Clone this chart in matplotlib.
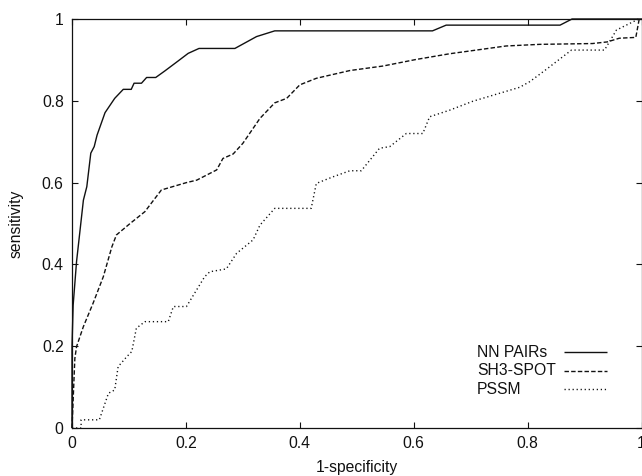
import matplotlib
matplotlib.use("Agg")
import matplotlib.pyplot as plt
from matplotlib.lines import Line2D

plt.rcParams['font.family'] = ['Liberation Sans', 'DejaVu Sans']

series_names = ["NN PAIRs", "SH3-SPOT", "PSSM"]

nn_x = [0, 0, 0.002, 0.008, 0.02, 0.026, 0.033, 0.039, 0.044, 0.058, 0.075, 0.09, 0.104, 0.109,
        0.122, 0.131, 0.147, 0.163, 0.186, 0.204, 0.223, 0.286, 0.324, 0.356, 0.633, 0.657,
        0.857, 0.878, 1.0]
nn_y = [0, 0.2, 0.30, 0.407, 0.557, 0.59, 0.672, 0.688, 0.716, 0.771, 0.806, 0.828, 0.828, 0.843,
        0.843, 0.857, 0.857, 0.873, 0.897, 0.916, 0.928, 0.928, 0.957, 0.971, 0.971, 0.985,
        0.985, 1.0, 1.0]

sh3_x = [0, 0.005, 0.008, 0.02, 0.037, 0.055, 0.07, 0.078, 0.102, 0.128, 0.146, 0.157, 0.201,
         0.219, 0.254, 0.265, 0.283, 0.30, 0.33, 0.356, 0.377, 0.40, 0.429, 0.488, 0.546, 0.604,
         0.663, 0.762, 0.821, 0.914, 0.94, 0.961, 0.99, 0.996, 1.0]
sh3_y = [0, 0.17, 0.199, 0.248, 0.305, 0.37, 0.443, 0.472, 0.50, 0.529, 0.562, 0.582, 0.60,
         0.606, 0.631, 0.659, 0.67, 0.696, 0.757, 0.795, 0.806, 0.839, 0.855, 0.874, 0.885, 0.901,
         0.915, 0.934, 0.938, 0.94, 0.944, 0.953, 0.955, 1.0, 1.0]

pssm_x = [0, 0.016, 0.016, 0.048, 0.064, 0.075, 0.081, 0.096, 0.105, 0.113, 0.128, 0.169, 0.178,
          0.201, 0.233, 0.242, 0.271, 0.289, 0.318, 0.33, 0.356, 0.42, 0.429, 0.458, 0.488, 0.508,
          0.54, 0.558, 0.587, 0.616, 0.628, 0.663, 0.704, 0.786, 0.804, 0.833, 0.877, 0.935,
          0.956, 0.995, 1.0]
pssm_y = [0, 0, 0.02, 0.02, 0.085, 0.093, 0.15, 0.174, 0.187, 0.244, 0.26, 0.26, 0.297,
          0.297, 0.37, 0.382, 0.389, 0.427, 0.46, 0.496, 0.537, 0.537, 0.598, 0.614, 0.629, 0.629,
          0.684, 0.688, 0.72, 0.72, 0.761, 0.777, 0.799, 0.833, 0.847, 0.877, 0.924, 0.924,
          0.973, 1.0, 1.0]

ticks = [0, 0.2, 0.4, 0.6, 0.8, 1]
tick_labels = ["0", "0.2", "0.4", "0.6", "0.8", "1"]

fig = plt.figure(figsize=(6.42, 4.76), dpi=100)
ax = fig.add_axes([72 / 642, 48 / 476, 569.5 / 642, 409 / 476])

col = "#111111"
fs = 11.3
styles = [(0, ()), (0, (3.2, 1.6)), (0, (0.9, 2.0))]
data = [(nn_x, nn_y), (sh3_x, sh3_y), (pssm_x, pssm_y)]
for (xs, ys), ls in zip(data, styles):
    ax.plot(xs, ys, color=col, lw=1.0, linestyle=ls, clip_on=False)

ax.set_xlim(0, 1)
ax.set_ylim(0, 1)
ax.set_xticks(ticks)
ax.set_xticklabels(tick_labels)
ax.set_yticks(ticks)
ax.set_yticklabels(tick_labels)
ax.tick_params(direction="in", length=4, width=0.8, top=True, right=True,
               labelsize=fs, colors=col, pad=6)
for s in ax.spines.values():
    s.set_linewidth(0.9)
    s.set_color(col)

ax.set_xlabel("1-specificity", fontsize=fs, color=col, labelpad=6)
ax.set_ylabel("sensitivity", fontsize=fs, color=col, labelpad=13)

# key (gnuplot style: left-justified text, sample line to the right)
key_y = [0.185, 0.14, 0.095]
for name, ls, ky in zip(series_names, styles, key_y):
    ax.text(0.711, ky, name, transform=ax.transAxes, fontsize=fs, color=col,
            ha="left", va="center")
    ax.add_line(Line2D([0.864, 0.94], [ky, ky], transform=ax.transAxes,
                       color=col, lw=1.0, linestyle=ls))

fig.savefig("out.png", dpi=100)
